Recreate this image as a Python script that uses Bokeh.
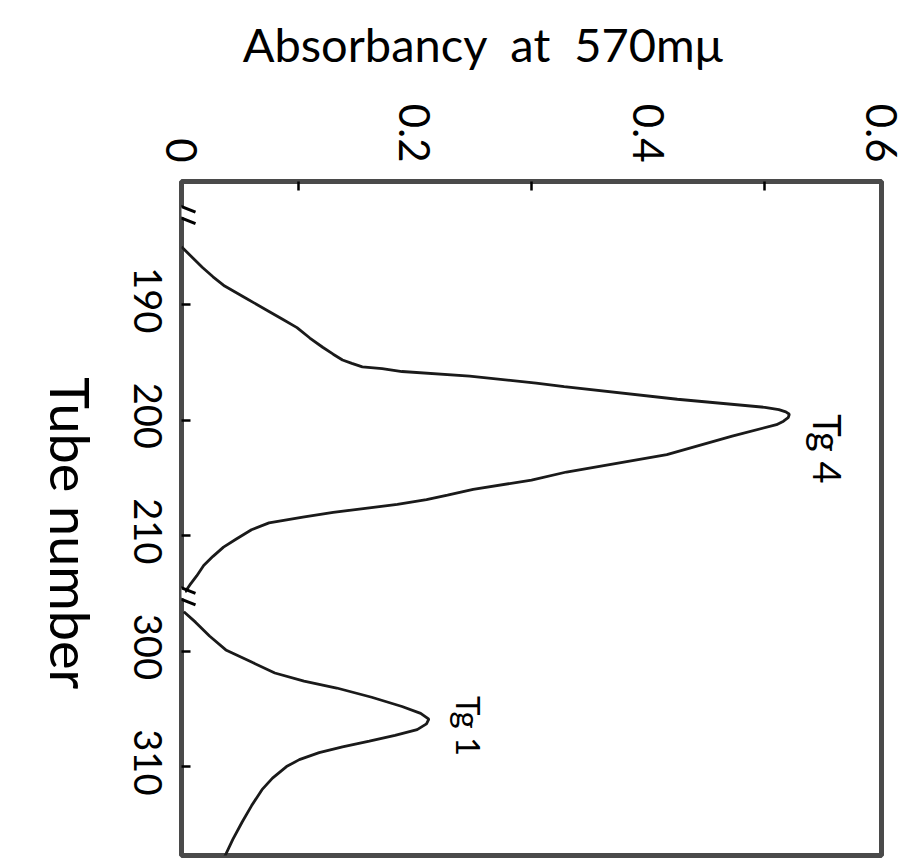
import math
from bokeh.plotting import figure
from bokeh.models import (Range1d, FixedTicker, Label, Arrow, NumeralTickFormatter,
                          LinearAxis)
from bokeh.embed import file_html
from bokeh.resources import INLINE

# ---- data ----
TG4_TUBE = [185.0, 185.8, 186.8, 187.6, 188.4, 189.5, 190.6, 191.3, 192.0, 192.9, 193.7,
            194.3, 194.8, 195.1, 195.4, 195.55, 195.8, 196.2, 196.8, 197.1, 198.2, 198.9,
            199.1, 199.3, 199.5, 199.8, 200.1, 200.4, 201.4, 203.0, 204.5, 205.2, 206.0,
            206.5, 206.9, 207.3, 207.6, 208.0, 208.4, 208.9, 209.5, 210.3, 211.0, 211.8,
            212.6, 213.5, 214.3, 214.9]
TG4_ABS = [0.000, 0.008, 0.018, 0.027, 0.037, 0.056, 0.075, 0.087, 0.099, 0.110, 0.121,
           0.130, 0.138, 0.146, 0.155, 0.172, 0.189, 0.247, 0.304, 0.328, 0.425, 0.500,
           0.512, 0.518, 0.521, 0.520, 0.516, 0.510, 0.472, 0.416, 0.330, 0.300, 0.250,
           0.228, 0.210, 0.185, 0.161, 0.130, 0.104, 0.075, 0.060, 0.047, 0.036, 0.027,
           0.019, 0.013, 0.007, 0.003]
TG1_TUBE = [296.6, 297.5, 298.7, 299.9, 301.0, 301.9, 302.6, 303.2, 304.0, 304.8, 305.4,
            305.9, 306.3, 306.8, 307.3, 307.8, 308.3, 308.8, 309.4, 310.0, 311.0, 312.0,
            313.4, 314.8, 316.3, 317.8]
TG1_ABS = [0.002, 0.012, 0.024, 0.038, 0.061, 0.080, 0.105, 0.133, 0.163, 0.189, 0.205,
           0.212, 0.210, 0.202, 0.183, 0.161, 0.138, 0.118, 0.101, 0.090, 0.078, 0.069,
           0.060, 0.052, 0.044, 0.037]

TUBE_TICKS = [190, 200, 210, 300, 310]
ABS_TICKS = [0, 0.2, 0.4, 0.6]
ABS_MINOR = [0.1, 0.3, 0.5]

BREAK_LOW = 215     # last tube before the axis break
BREAK_HIGH = 295    # first tube after the axis break
TOP_BREAK = 182     # break mark at the top of the tube axis
TUBE_MIN, TUBE_MAX = 179.35, 317.7

X_TITLE = "Absorbancy \u00a0at \u00a0570mμ"
Y_TITLE = "Tube number"


def pos(t):
    return t if t <= BREAK_LOW else t - (BREAK_HIGH - BREAK_LOW)


FONT = "Lato"
LABEL_SHIFT = 2.5        # rotated tick labels are anchored at their end
Y_TITLE_END = 223.3      # axis position where the rotated tube-axis title ends

p = figure(width=902, height=858,
           x_range=Range1d(0, 0.6),
           y_range=Range1d(pos(TUBE_MAX), pos(TUBE_MIN)),
           x_axis_location="above", y_axis_location="left",
           output_backend="svg", toolbar_location=None,
           min_border_left=181, min_border_top=181,
           min_border_right=21, min_border_bottom=3)
p.grid.visible = False
p.outline_line_color = "#4a4a4a"
p.outline_line_width = 5
p.background_fill_color = "white"
p.border_fill_color = "white"

# curves
p.line(TG4_ABS, [pos(t) for t in TG4_TUBE], line_color="#1a1a1a", line_width=2.8)
p.line(TG1_ABS, [pos(t) for t in TG1_TUBE], line_color="#1a1a1a", line_width=2.8)

# absorbance axis (top)
xa = p.xaxis[0]
xa.ticker = FixedTicker(ticks=ABS_TICKS, minor_ticks=ABS_MINOR)
xa.formatter = NumeralTickFormatter(format="0.[0]")
xa.axis_line_color = None
xa.major_tick_in = 0
xa.major_tick_out = 0
xa.minor_tick_in = 9
xa.minor_tick_out = 0
xa.minor_tick_line_width = 2.5
xa.minor_tick_line_color = "black"
xa.major_label_orientation = -math.pi / 2
xa.major_label_standoff = 19
xa.major_label_text_font = FONT
xa.major_label_text_font_size = "42px"
xa.major_label_text_color = "black"
xa.axis_label = X_TITLE + "\u00a0" * 8
xa.axis_label_text_font = FONT
xa.axis_label_text_font_size = "47px"
xa.axis_label_text_font_style = "normal"
xa.axis_label_text_color = "black"
xa.axis_label_standoff = 29

# tube axis: tick marks next to the frame
ya = p.yaxis[0]
ya.ticker = FixedTicker(ticks=[pos(t) for t in TUBE_TICKS])
ya.major_label_overrides = {pos(t): "" for t in TUBE_TICKS}
ya.axis_line_color = None
ya.major_tick_in = 9
ya.major_tick_out = 0
ya.major_tick_line_width = 2.5
ya.major_tick_line_color = "black"
ya.minor_tick_line_color = None
ya.major_label_text_font_size = "0px"
ya.major_label_standoff = 0

# tube axis: rotated tick labels
yb = LinearAxis(ticker=FixedTicker(ticks=[pos(t) + LABEL_SHIFT for t in TUBE_TICKS]))
yb.major_label_overrides = {pos(t) + LABEL_SHIFT: str(t) for t in TUBE_TICKS}
yb.axis_line_color = None
yb.major_tick_line_color = None
yb.minor_tick_line_color = None
yb.major_label_orientation = -math.pi / 2
yb.major_label_standoff = 28
yb.major_label_text_font = FONT
yb.major_label_text_font_size = "38px"
yb.major_label_text_color = "black"
p.add_layout(yb, "left")

# tube axis title (rotated, anchored at its end like the tick labels)
yc = LinearAxis(ticker=FixedTicker(ticks=[Y_TITLE_END]))
yc.major_label_overrides = {Y_TITLE_END: Y_TITLE}
yc.axis_line_color = None
yc.major_tick_line_color = None
yc.minor_tick_line_color = None
yc.major_label_orientation = -math.pi / 2
yc.major_label_standoff = 40
yc.major_label_text_font = FONT
yc.major_label_text_font_size = "54px"
yc.major_label_text_color = "black"
p.add_layout(yc, "left")

# peak labels
p.add_layout(Label(x=0.554, y=202.5, text="Tg 4", angle=-math.pi / 2,
                   text_font=FONT, text_font_size="38px", text_color="black",
                   text_align="center", text_baseline="middle"))
p.add_layout(Label(x=0.246, y=pos(306.5), text="Tg 1", angle=-math.pi / 2,
                   text_font=FONT, text_font_size="33px", text_color="black",
                   text_align="center", text_baseline="middle"))

# axis break marks
for c in (pos(TOP_BREAK), pos(BREAK_LOW)):
    p.add_layout(Arrow(end=None, x_start=0, y_start=c - 0.45, x_end=0, y_end=c + 0.45,
                       line_color="white", line_width=7, level="overlay"))
    for d in (-0.5, 0.5):
        p.add_layout(Arrow(end=None, x_start=-0.013, y_start=c + d - 0.5,
                           x_end=0.012, y_end=c + d + 0.5,
                           line_color="black", line_width=3, level="overlay"))

open("out.html", "w").write(file_html(p, INLINE))
